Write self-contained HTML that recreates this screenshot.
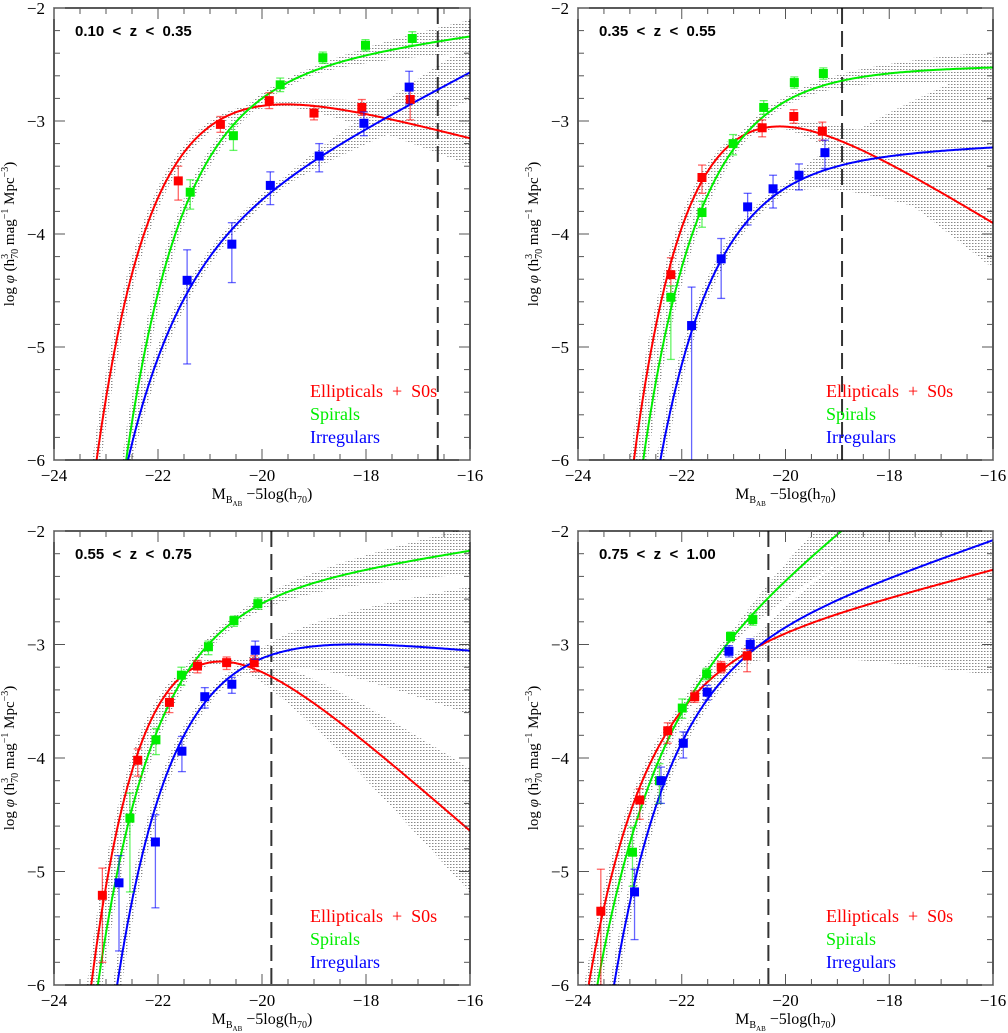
<!DOCTYPE html>
<html><head><meta charset="utf-8"><style>
html,body{margin:0;padding:0;background:#fff;overflow:hidden;width:1008px;height:1033px;}
svg{display:block;}
text{font-family:"Liberation Serif",serif;}
</style></head><body>
<svg id="chart" width="1008" height="1033" viewBox="0 0 1008 1033" xmlns="http://www.w3.org/2000/svg">
<defs>
<pattern id="hatch" width="3" height="3" patternUnits="userSpaceOnUse">
<rect x="0" y="0" width="1.5" height="1" fill="#888"/>
</pattern>
</defs>
</svg>
<script>
// ---- Panel 1: 0.10 < z < 0.35 ----
const p1EllM   = [-21.61,-20.80,-19.86,-19.00,-18.08,-17.15];
const p1EllPhi = [-3.53,-3.03,-2.82,-2.93,-2.88,-2.81];
const p1EllEu  = [0.13,0.07,0.07,0.06,0.07,0.14];
const p1EllEd  = [0.17,0.07,0.07,0.06,0.07,0.18];
const p1SpM    = [-21.38,-20.55,-19.65,-18.83,-18.01,-17.11];
const p1SpPhi  = [-3.63,-3.13,-2.68,-2.44,-2.33,-2.27];
const p1SpEu   = [0.11,0.10,0.06,0.05,0.05,0.06];
const p1SpEd   = [0.15,0.13,0.06,0.05,0.05,0.06];
const p1IrM    = [-21.44,-20.58,-19.84,-18.90,-18.04,-17.17];
const p1IrPhi  = [-4.41,-4.09,-3.57,-3.31,-3.02,-2.70];
const p1IrEu   = [0.27,0.19,0.12,0.11,0.10,0.14];
const p1IrEd   = [0.74,0.34,0.17,0.14,0.11,0.15];
// ---- Panel 2: 0.35 < z < 0.55 ----
const p2EllM   = [-22.21,-21.61,-20.45,-19.84,-19.29];
const p2EllPhi = [-4.36,-3.50,-3.06,-2.96,-3.09];
const p2EllEu  = [0.15,0.11,0.07,0.06,0.08];
const p2EllEd  = [0.20,0.14,0.08,0.06,0.08];
const p2SpM    = [-22.21,-21.61,-21.01,-20.42,-19.83,-19.27];
const p2SpPhi  = [-4.56,-3.81,-3.20,-2.88,-2.66,-2.58];
const p2SpEu   = [0.10,0.10,0.08,0.06,0.05,0.05];
const p2SpEd   = [0.55,0.13,0.10,0.06,0.05,0.05];
const p2IrM    = [-21.81,-21.24,-20.73,-20.24,-19.74,-19.24];
const p2IrPhi  = [-4.81,-4.22,-3.76,-3.60,-3.48,-3.28];
const p2IrEu   = [0.34,0.18,0.12,0.12,0.10,0.11];
const p2IrEd   = [1.2,0.35,0.16,0.17,0.13,0.14];
// ---- Panel 3: 0.55 < z < 0.75 ----
const p3EllM   = [-23.07,-22.39,-21.78,-21.24,-20.68,-20.15];
const p3EllPhi = [-5.21,-4.02,-3.51,-3.19,-3.16,-3.16];
const p3EllEu  = [0.24,0.10,0.08,0.05,0.05,0.06];
const p3EllEd  = [0.59,0.14,0.09,0.06,0.06,0.08];
const p3SpM    = [-22.54,-22.04,-21.55,-21.03,-20.54,-20.08];
const p3SpPhi  = [-4.53,-3.84,-3.27,-3.02,-2.79,-2.64];
const p3SpEu   = [0.22,0.10,0.07,0.05,0.04,0.05];
const p3SpEd   = [0.65,0.13,0.09,0.07,0.05,0.05];
const p3IrM    = [-22.75,-22.05,-21.54,-21.10,-20.58,-20.13];
const p3IrPhi  = [-5.10,-4.74,-3.94,-3.46,-3.35,-3.05];
const p3IrEu   = [0.24,0.24,0.13,0.08,0.06,0.08];
const p3IrEd   = [0.60,0.58,0.18,0.10,0.08,0.08];
// ---- Panel 4: 0.75 < z < 1.00 ----
const p4EllM   = [-23.56,-22.81,-22.27,-21.75,-21.24,-20.74];
const p4EllPhi = [-5.35,-4.37,-3.76,-3.46,-3.20,-3.10];
const p4EllEu  = [0.37,0.10,0.07,0.05,0.05,0.06];
const p4EllEd  = [0.65,0.17,0.11,0.05,0.05,0.14];
const p4SpM    = [-22.95,-22.43,-21.99,-21.52,-21.06,-20.63];
const p4SpPhi  = [-4.83,-4.20,-3.56,-3.26,-2.93,-2.78];
const p4SpEu   = [0.22,0.15,0.08,0.05,0.04,0.05];
const p4SpEd   = [0.30,0.20,0.09,0.05,0.04,0.05];
const p4IrM    = [-22.91,-22.40,-21.97,-21.51,-21.09,-20.68];
const p4IrPhi  = [-5.18,-4.20,-3.87,-3.42,-3.06,-3.00];
const p4IrEu   = [0.20,0.12,0.10,0.06,0.05,0.05];
const p4IrEd   = [0.42,0.20,0.13,0.07,0.05,0.05];
// ---- Schechter fit parameters [Mstar, alpha, logPhiStar] ----
const p1Fits = [[-20.85,-0.70,-2.53],[-20.40,-1.16,-2.49],[-21.00,-1.60,-3.73]];
const p2Fits = [[-20.50,-0.30,-2.60],[-20.50,-1.02,-2.52],[-20.45,-1.05,-3.28]];
const p3Fits = [[-20.80, 0.00,-2.68],[-20.95,-1.18,-2.49],[-20.60,-0.89,-2.81]];
const p4Fits = [[-21.80,-1.30,-3.00],[-21.80,-1.90,-2.97],[-21.30,-1.40,-2.89]];
// ---- uncertainty band growth [Mc, k] per fit ----
const p1Bands = [[-19.5,0.06],[-19.0,0.04],[-19.5,0.06]];
const p2Bands = [[-20.0,0.09],[-20.0,0.03],[-20.0,0.18]];
const p3Bands = [[-20.5,0.11],[-20.5,0.04],[-20.5,0.12]];
const p4Bands = [[-21.0,0.18],[-21.0,0.10],[-21.0,0.14]];
const completeness = [-16.62,-18.91,-19.82,-20.33];
const zLabels = ["0.10 < z < 0.35","0.35 < z < 0.55","0.55 < z < 0.75","0.75 < z < 1.00"];
const xTicks = [-24,-22,-20,-18,-16];
const yTicks = [-6,-5,-4,-3,-2];
const seriesNames = ["Ellipticals + S0s","Spirals","Irregulars"];

const NS = "http://www.w3.org/2000/svg";
const svg = document.getElementById("chart");
const COLORS = ["#ff0000","#00ee00","#0000ff"];
const KEYS = ["ellipticals","spirals","irregulars"];
const boxes = [
  {x0:54,x1:470,y0:8,y1:460,lx:310},
  {x0:578,x1:993,y0:8,y1:460,lx:826},
  {x0:54,x1:470,y0:531,y1:985,lx:310},
  {x0:578,x1:993,y0:531,y1:985,lx:826}
];
const panels = [
  {fits:p1Fits,bands:p1Bands,data:[[p1EllM,p1EllPhi,p1EllEu,p1EllEd],[p1SpM,p1SpPhi,p1SpEu,p1SpEd],[p1IrM,p1IrPhi,p1IrEu,p1IrEd]]},
  {fits:p2Fits,bands:p2Bands,data:[[p2EllM,p2EllPhi,p2EllEu,p2EllEd],[p2SpM,p2SpPhi,p2SpEu,p2SpEd],[p2IrM,p2IrPhi,p2IrEu,p2IrEd]]},
  {fits:p3Fits,bands:p3Bands,data:[[p3EllM,p3EllPhi,p3EllEu,p3EllEd],[p3SpM,p3SpPhi,p3SpEu,p3SpEd],[p3IrM,p3IrPhi,p3IrEu,p3IrEd]]},
  {fits:p4Fits,bands:p4Bands,data:[[p4EllM,p4EllPhi,p4EllEu,p4EllEd],[p4SpM,p4SpPhi,p4SpEu,p4SpEd],[p4IrM,p4IrPhi,p4IrEu,p4IrEd]]}
];
function mk(tag, attrs, parent){
  const e = document.createElementNS(NS, tag);
  for (const k in attrs) e.setAttribute(k, attrs[k]);
  (parent||svg).appendChild(e);
  return e;
}
function schechter(p, M){
  const lx = 0.4*(p[0]-M);
  const x = Math.pow(10, lx);
  return Math.log10(0.4*Math.LN10) + p[2] + (p[1]+1)*lx - x/Math.LN10;
}
const fmt = v => (v<0 ? "\u2212" + Math.abs(v) : String(v));

panels.forEach((pan, pi) => {
  const b = boxes[pi];
  const sx = M => b.x0 + (M+24)/8*(b.x1-b.x0);
  const sy = L => b.y0 + (-2-L)/4*(b.y1-b.y0);
  const g = mk("g", {});
  
  
  const cp = mk("clipPath", {id:"clip"+pi}, g);
  mk("rect", {x:b.x0, y:b.y0, width:b.x1-b.x0, height:b.y1-b.y0}, cp);
  const plot = mk("g", {"clip-path":"url(#clip"+pi+")"}, g);

  // bands
  pan.fits.forEach((p, si) => {
    const [Mc, k] = pan.bands[si];
    const up = [], lo = [];
    for (let M=-24; M<=-16.001+0.05; M+=0.05){
      const a = schechter(p, M-0.08), c = schechter(p, M+0.08);
      const v = 0.02 + k*Math.max(0, M-Mc);
      up.push([sx(M), sy(Math.max(-7, Math.max(a,c)+v))]);
      lo.push([sx(M), sy(Math.max(-7, Math.min(a,c)-v))]);
    }
    const pts = up.concat(lo.reverse()).map(q=>q[0].toFixed(1)+","+q[1].toFixed(1)).join(" ");
    const band = mk("polygon", {points:pts, fill:"url(#hatch)"}, plot);
    
    
  });

  // completeness line
  const cl = mk("line", {x1:sx(completeness[pi]), x2:sx(completeness[pi]), y1:b.y0, y2:b.y1, stroke:"#333", "stroke-width":2, "stroke-dasharray":"16,7"}, plot);
  
  

  // fit curves
  pan.fits.forEach((p, si) => {
    let d = "";
    for (let M=-24; M<=-16.001+0.02; M+=0.02){
      const L = Math.max(-7, schechter(p, M));
      d += (d ? "L" : "M") + sx(M).toFixed(1) + "," + sy(L).toFixed(1);
    }
    const path = mk("path", {d:d, fill:"none", stroke:COLORS[si], "stroke-width":2}, plot);
    
    
  });

  // data points
  pan.data.forEach((ser, si) => {
    const [Ms, Ps, Eu, Ed] = ser;
    Ms.forEach((M, i) => {
      const x = sx(M), y = sy(Ps[i]), yu = sy(Ps[i]+Eu[i]), yd = sy(Ps[i]-Ed[i]);
      const eg = mk("g", {stroke:COLORS[si], "stroke-opacity":0.6, "stroke-width":1.3}, plot);
      
      
      mk("line", {x1:x, x2:x, y1:yu, y2:yd}, eg);
      mk("line", {x1:x-4, x2:x+4, y1:yu, y2:yu}, eg);
      mk("line", {x1:x-4, x2:x+4, y1:yd, y2:yd}, eg);
      const pt = mk("rect", {x:x-4.5, y:y-4.5, width:9, height:9, fill:COLORS[si]}, plot);
      
      
    });
  });

  // frame
  const fr = mk("rect", {x:b.x0, y:b.y0, width:b.x1-b.x0, height:b.y1-b.y0, fill:"none", stroke:"#000", "stroke-width":1.3}, g);
  
  

  // ticks
  const tg = mk("g", {stroke:"#555", "stroke-width":1}, g);
  
  
  for (let M=-24; M<=-16.001+0.01; M+=0.5){
    const major = Math.abs(M - Math.round(M/2)*2) < 1e-6;
    const len = major ? 11 : 6;
    const x = sx(M);
    mk("line", {x1:x, x2:x, y1:b.y1, y2:b.y1-len}, tg);
    mk("line", {x1:x, x2:x, y1:b.y0, y2:b.y0+len}, tg);
  }
  for (let L=-6; L<=-2.001+0.01; L+=0.2){
    const major = Math.abs(L - Math.round(L)) < 1e-6;
    const len = major ? 11 : 6;
    const y = sy(L);
    mk("line", {x1:b.x0, x2:b.x0+len, y1:y, y2:y}, tg);
    mk("line", {x1:b.x1, x2:b.x1-len, y1:y, y2:y}, tg);
  }
  xTicks.forEach(v => {
    const t = mk("text", {x:sx(v), y:b.y1+21, "text-anchor":"middle", "font-size":17, fill:"#000"}, g);
    t.textContent = fmt(v);
    
    
  });
  yTicks.forEach(v => {
    const t = mk("text", {x:b.x0-9, y:sy(v)+6, "text-anchor":"end", "font-size":17, fill:"#000"}, g);
    t.textContent = fmt(v);
    
    
  });

  // x axis title
  const xt = mk("text", {x:(b.x0+b.x1)/2, y:b.y1+39, "text-anchor":"middle", "font-size":16, fill:"#000"}, g);
  
  
  xt.innerHTML = 'M<tspan font-size="10" dy="4">B</tspan><tspan font-size="7" dy="3">AB</tspan><tspan dy="-7"> \u22125log(h</tspan><tspan font-size="10" dy="4">70</tspan><tspan dy="-4">)</tspan>';

  // y axis title
  const cy = (b.y0+b.y1)/2, cx = b.x0 - 40;
  const yt = mk("text", {x:cx, y:cy, "text-anchor":"middle", "font-size":15, fill:"#000", transform:"rotate(-90 "+cx+" "+cy+")"}, g);
  
  
  yt.innerHTML = 'log <tspan font-style="italic">\u03c6</tspan>  (h<tspan font-size="10" dy="-6">3</tspan><tspan font-size="10" dx="-5" dy="10">70</tspan><tspan dy="-4"> mag</tspan><tspan font-size="10" dy="-6">\u22121</tspan><tspan dy="6"> Mpc</tspan><tspan font-size="10" dy="-6">\u22123</tspan><tspan dy="6">)</tspan>';

  // redshift label
  const zl = mk("text", {x:b.x0+21, y:b.y0+28, "font-size":15, "font-weight":"bold", fill:"#000", style:"font-family:'Liberation Sans',sans-serif;white-space:pre"}, g);
  zl.textContent = zLabels[pi].replace(/ /g, "  ");
  
  

  // legend
  seriesNames.forEach((n, si) => {
    const t = mk("text", {x:b.lx, y:b.y1-63+si*23, "font-size":18, fill:COLORS[si], style:"white-space:pre"}, g);
    t.textContent = n.replace(" + ", "  +  ");
    
    
  });
});
</script>
</body></html>
